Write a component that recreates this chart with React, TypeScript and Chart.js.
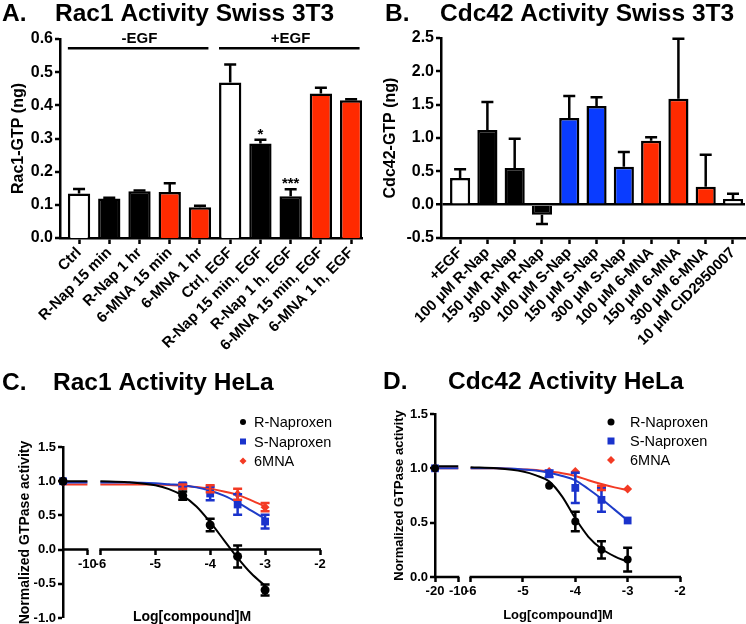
import React, { useEffect, useRef } from 'react';
import { Chart, registerables } from 'chart.js';

Chart.register(...registerables);

const FONT = "'Liberation Sans', Arial, Helvetica, sans-serif";
Chart.defaults.font.family = FONT;
Chart.defaults.color = '#000';

const BLACK = '#000000';
const WHITE = '#ffffff';
const RED = '#ff2a00';
const BLUE = '#0a3cff';
const CURVE_BLUE = '#1e3cc8';
const CURVE_RED = '#f33a24';

// ---------- Panel A: Rac1 Activity Swiss 3T3 ----------
const aCategories = ['Ctrl', 'R-Nap 15 min', 'R-Nap 1 hr', '6-MNA 15 min', '6-MNA 1 hr', 'Ctrl, EGF', 'R-Nap 15 min, EGF', 'R-Nap 1 h, EGF', '6-MNA 15 min, EGF', '6-MNA 1 h, EGF'];
const aValues = [0.134, 0.119, 0.141, 0.139, 0.093, 0.469, 0.285, 0.126, 0.436, 0.415];
const aErrors = [0.014, 0.002, 0.002, 0.026, 0.004, 0.054, 0.011, 0.021, 0.017, 0.003];
const aColors = [WHITE, BLACK, BLACK, RED, RED, WHITE, BLACK, BLACK, RED, RED];
const aStars = ['', '', '', '', '', '', '*', '***', '', ''];
const aYTicks = [0, 0.1, 0.2, 0.3, 0.4, 0.5, 0.6];
const aGroupLabels = ['-EGF', '+EGF'];
const aGroupFirst = [0, 5];
const aGroupLast = [4, 9];
const aBracketValue = 0.572;

// ---------- Panel B: Cdc42 Activity Swiss 3T3 ----------
const bCategories = ['+EGF', '100 μM R-Nap', '150 μM R-Nap', '300 μM R-Nap', '100 μM S-Nap', '150 μM S-Nap', '300 μM S-Nap', '100 μM 6-MNA', '150 μM 6-MNA', '300 μM 6-MNA', '10 μM CID2950007'];
const bValues = [0.40, 1.12, 0.55, -0.15, 1.30, 1.48, 0.57, 0.96, 1.59, 0.27, 0.085];
const bErrors = [0.13, 0.42, 0.44, 0.14, 0.33, 0.13, 0.22, 0.05, 0.90, 0.48, 0.08];
const bColors = [WHITE, BLACK, BLACK, BLACK, BLUE, BLUE, BLUE, RED, RED, RED, WHITE];
const bYTicks = [-0.5, 0, 0.5, 1.0, 1.5, 2.0, 2.5];

// ---------- Panels C & D: dose response (log[compound] M) ----------
const pointX = [-20, -4.5, -4, -3.5, -3];
const curveLeftX = [-20, -10];
const curveMainX = [-6, -5.5, -5, -4.75, -4.5, -4.25, -4, -3.75, -3.5, -3.25, -3];
const GAP_X = -8;

const cXTicks = [-10, -6, -5, -4, -3, -2];
const cYTicks = [-1.0, -0.5, 0, 0.5, 1.0, 1.5];
const cRValues = [1.0, 0.79, 0.36, -0.10, -0.59];
const cRErrors = [0, 0.06, 0.09, 0.16, 0.08];
const cSValues = [1.0, 0.94, 0.82, 0.66, 0.41];
const cSErrors = [0, 0.03, 0.10, 0.15, 0.10];
const cMValues = [1.0, 0.92, 0.89, 0.81, 0.62];
const cMErrors = [0, 0.03, 0.05, 0.08, 0.06];
const cRCurveLeft = [1.0, 1.0];
const cRCurve = [1.0, 0.985, 0.94, 0.885, 0.79, 0.63, 0.40, 0.14, -0.12, -0.35, -0.53];
const cSCurveLeft = [0.98, 0.98];
const cSCurve = [0.98, 0.98, 0.97, 0.955, 0.94, 0.91, 0.86, 0.79, 0.69, 0.57, 0.45];
const cMCurveLeft = [0.95, 0.95];
const cMCurve = [0.95, 0.95, 0.95, 0.945, 0.935, 0.915, 0.89, 0.85, 0.80, 0.72, 0.63];

const dXTicks = [-20, -10, -6, -5, -4, -3, -2];
const dYTicks = [0, 0.5, 1.0, 1.5];
const dRValues = [1.0, 0.84, 0.51, 0.25, 0.16];
const dRErrors = [0, 0, 0.09, 0.08, 0.11];
const dSValues = [1.0, 0.95, 0.82, 0.71, 0.52];
const dSErrors = [0, 0.03, 0.14, 0.11, 0];
const dMValues = [1.0, 0.97, 0.97, 0.82, 0.81];
const dMErrors = [0, 0, 0, 0.02, 0];
const dRCurveLeft = [1.02, 1.02];
const dRCurve = [1.01, 1.0, 0.97, 0.935, 0.88, 0.74, 0.54, 0.37, 0.26, 0.19, 0.14];
const dSCurveLeft = [1.0, 1.0];
const dSCurve = [1.0, 1.0, 0.99, 0.98, 0.96, 0.93, 0.89, 0.81, 0.72, 0.62, 0.52];
const dMCurveLeft = [1.0, 1.0];
const dMCurve = [1.0, 1.0, 0.99, 0.985, 0.97, 0.955, 0.93, 0.89, 0.855, 0.825, 0.80];

const seriesNames = ['R-Naproxen', 'S-Naproxen', '6MNA'];

// broken-axis transform: [-20,-10] is squeezed into a short stub, then [-6,-2] linear
const BREAK_LO = -20;
const BREAK_HI = -10;
const RESUME = -6;
const U_MIN = -6.68;
const U_BREAK = -6.235;
function toAxis(x: number) {
  if (x >= RESUME) return x;
  if (x <= BREAK_HI) return U_BREAK + ((x - BREAK_HI) * (U_BREAK - U_MIN)) / (BREAK_HI - BREAK_LO);
  return U_BREAK + ((x - BREAK_HI) * (RESUME - U_BREAK)) / (RESUME - BREAK_HI);
}

const bold = (size: number) => ({ family: FONT, size, weight: 'bold' as const });
const f1 = (v: number) => v.toFixed(1);
const TITLE_SIZE = 24.5;

// ---------- plugins ----------
const errorBarPlugin = {
  id: 'errorBars',
  afterDatasetsDraw(chart: any) {
    const { ctx } = chart;
    const yScale = chart.scales.y;
    chart.data.datasets.forEach((ds: any, di: number) => {
      if (!ds.errors) return;
      const meta = chart.getDatasetMeta(di);
      ctx.save();
      ctx.strokeStyle = ds.errorColor || '#000';
      ctx.lineWidth = ds.errorWidth || 2.5;
      meta.data.forEach((el: any, i: number) => {
        const e = ds.errors[i];
        if (!e) return;
        const raw = ds.data[i];
        const v = typeof raw === 'number' ? raw : raw.y;
        const cap = (ds.capWidth || 12) / 2;
        const x = el.x;
        const ends = ds.oneSided ? [v + (v < 0 ? -e : e)] : [v - e, v + e];
        const yFrom = yScale.getPixelForValue(ds.oneSided ? v : v - e);
        const yTo = yScale.getPixelForValue(ends[ends.length - 1]);
        ctx.beginPath();
        ctx.moveTo(x, yFrom);
        ctx.lineTo(x, yTo);
        ends.forEach((val: number) => {
          const py = yScale.getPixelForValue(val);
          ctx.moveTo(x - cap, py);
          ctx.lineTo(x + cap, py);
        });
        ctx.stroke();
      });
      ctx.restore();
    });
  },
};

type TextItem = { text: string; x: number; y: number; size: number; weight?: string; align?: CanvasTextAlign };
function makeTextPlugin(items: TextItem[]) {
  return {
    id: 'panelTexts',
    afterDraw(chart: any) {
      const ctx = chart.ctx;
      items.forEach((it) => {
        ctx.save();
        ctx.font = `${it.weight || 'bold'} ${it.size}px ${FONT}`;
        ctx.fillStyle = '#000';
        ctx.textAlign = it.align || 'left';
        ctx.textBaseline = 'alphabetic';
        ctx.fillText(it.text, it.x, it.y);
        ctx.restore();
      });
    },
  };
}

const groupPlugin = {
  id: 'groupBrackets',
  afterDatasetsDraw(chart: any) {
    const { ctx } = chart;
    const { x, y } = chart.scales;
    ctx.save();
    ctx.strokeStyle = '#000';
    ctx.fillStyle = '#000';
    ctx.lineWidth = 2.5;
    ctx.font = `bold 15px ${FONT}`;
    ctx.textAlign = 'center';
    ctx.textBaseline = 'alphabetic';
    aGroupLabels.forEach((lab, g) => {
      const yy = y.getPixelForValue(aBracketValue);
      ctx.beginPath();
      ctx.moveTo(x.getPixelForValue(aGroupFirst[g] - 0.37), yy);
      ctx.lineTo(x.getPixelForValue(aGroupLast[g] + 0.28), yy);
      ctx.stroke();
      ctx.fillText(lab, x.getPixelForValue((aGroupFirst[g] + aGroupLast[g]) / 2), yy - 5);
    });
    aStars.forEach((s, i) => {
      if (!s) return;
      ctx.fillText(s, x.getPixelForValue(i), y.getPixelForValue(aValues[i] + aErrors[i]) - 1);
    });
    ctx.restore();
  },
};

function makeBrokenAxisPlugin(segments: number[][]) {
  return {
    id: 'brokenAxis',
    beforeDatasetsDraw(chart: any) {
      const { ctx } = chart;
      const { x, y } = chart.scales;
      const yy = y.getPixelForValue(0);
      ctx.save();
      ctx.strokeStyle = '#000';
      ctx.lineWidth = 2.5;
      ctx.beginPath();
      segments.forEach(([a, b]) => {
        ctx.moveTo(x.getPixelForValue(toAxis(a)) - 1, yy);
        ctx.lineTo(x.getPixelForValue(toAxis(b)) + 1, yy);
      });
      ctx.stroke();
      ctx.restore();
    },
  };
}

function drawMarker(ctx: CanvasRenderingContext2D, style: string, x: number, y: number, r: number, color: string) {
  ctx.save();
  ctx.fillStyle = color;
  ctx.beginPath();
  if (style === 'circle') ctx.arc(x, y, r, 0, Math.PI * 2);
  else if (style === 'rect') ctx.rect(x - r, y - r, 2 * r, 2 * r);
  else {
    ctx.moveTo(x, y - r);
    ctx.lineTo(x + r, y);
    ctx.lineTo(x, y + r);
    ctx.lineTo(x - r, y);
    ctx.closePath();
  }
  ctx.fill();
  ctx.restore();
}

function makeLegendPlugin(markerX: number, textX: number, rowY: number, rowGap: number, size: number) {
  return {
    id: 'pointLegend',
    afterDraw(chart: any) {
      const ctx = chart.ctx;
      let row = 0;
      chart.data.datasets.forEach((ds: any) => {
        if (!ds.legendText) return;
        const yy = rowY + row * rowGap;
        row += 1;
        drawMarker(ctx, ds.pointStyle, markerX, yy, ds.legendRadius, ds.pointBackgroundColor);
        ctx.save();
        ctx.font = `${size}px ${FONT}`;
        ctx.fillStyle = '#000';
        ctx.textAlign = 'left';
        ctx.textBaseline = 'middle';
        ctx.fillText(ds.legendText, textX, yy + 1);
        ctx.restore();
      });
    },
  };
}

// ---------- axis builders ----------
function yAxis(min: number, max: number, ticks: number[], width: number, title: string, titleSize: number, titlePad: number, tickSize: number, zeroLine = false) {
  return {
    type: 'linear',
    position: 'left',
    min,
    max,
    afterBuildTicks: (s: any) => {
      s.ticks = ticks.map((v) => ({ value: v }));
    },
    afterFit: (s: any) => {
      s.width = width;
      s.paddingTop = 0;
      s.paddingBottom = 0;
    },
    ticks: { font: bold(tickSize), color: '#000', padding: 2, callback: (_v: any, i: number) => f1(ticks[i]) },
    grid: {
      display: true,
      drawOnChartArea: zeroLine,
      drawTicks: true,
      tickLength: 5,
      tickWidth: 2.5,
      tickColor: '#000',
      color: (c: any) => (zeroLine && c.tick && c.tick.value === 0 ? '#000' : 'rgba(0,0,0,0)'),
      lineWidth: (c: any) => (zeroLine && c.tick && c.tick.value === 0 ? 2.5 : 0),
    },
    border: { display: true, color: '#000', width: 2.5 },
    title: { display: true, text: title, font: bold(titleSize), color: '#000', padding: { top: titlePad, bottom: 0 } },
  };
}

function categoryXAxis(cats: string[], min: number, max: number, height: number, tickSize: number) {
  return {
    type: 'linear',
    position: 'bottom',
    min,
    max,
    offset: false,
    afterBuildTicks: (s: any) => {
      s.ticks = cats.map((_c, i) => ({ value: i }));
    },
    afterFit: (s: any) => {
      s.height = height;
      s.paddingLeft = 0;
      s.paddingRight = 0;
    },
    ticks: { autoSkip: false, minRotation: 45, maxRotation: 45, font: bold(tickSize), color: '#000', padding: 0, callback: (_v: any, i: number) => cats[i] },
    grid: { display: true, offset: false, drawOnChartArea: false, drawTicks: true, tickLength: 6, tickWidth: 2.5, tickColor: '#000' },
    border: { display: true, color: '#000', width: 2.5 },
  };
}

function doseXAxis(ticks: number[], tickSize: number) {
  return {
    type: 'linear',
    position: { y: 0 },
    min: toAxis(BREAK_LO),
    max: -2,
    afterBuildTicks: (s: any) => {
      s.ticks = ticks.map((v) => ({ value: toAxis(v) }));
    },
    afterFit: (s: any) => {
      s.paddingLeft = 0;
      s.paddingRight = 0;
    },
    ticks: { autoSkip: false, maxRotation: 0, minRotation: 0, font: bold(tickSize), color: '#000', padding: 2, callback: (_v: any, i: number) => String(ticks[i]) },
    grid: { display: true, drawOnChartArea: false, drawTicks: true, tickLength: 5, tickWidth: 2.5, tickColor: '#000' },
    border: { display: false },
  };
}

// ---------- chart configs ----------
function barConfig(cats: string[], values: number[], errors: number[], colors: string[], opts: any) {
  return {
    type: 'bar',
    data: {
      datasets: [
        {
          data: values.map((v, i) => ({ x: i, y: v })),
          backgroundColor: colors,
          borderColor: BLACK,
          borderWidth: 2.5,
          barPercentage: 0.9,
          categoryPercentage: 0.82,
          errors,
          oneSided: true,
          capWidth: 12,
          errorWidth: 2.5,
        },
      ],
    },
    options: {
      responsive: false,
      animation: false,
      devicePixelRatio: 1,
      layout: { padding: opts.padding },
      plugins: { legend: { display: false }, tooltip: { enabled: false }, title: { display: false } },
      scales: {
        x: categoryXAxis(cats, opts.xMin, opts.xMax, opts.xHeight, opts.xTickSize),
        y: yAxis(opts.yMin, opts.yMax, opts.yTicks, opts.yWidth, opts.yTitle, 16, opts.yTitlePad, 16, opts.zeroLine),
      },
    },
    plugins: opts.plugins,
  };
}

function curveData(left: number[], main: number[]) {
  return [
    ...curveLeftX.map((x, i) => ({ x: toAxis(x), y: left[i] })),
    { x: toAxis(GAP_X), y: null },
    ...curveMainX.map((x, i) => ({ x: toAxis(x), y: main[i] })),
  ];
}

function doseConfig(series: any[], opts: any) {
  const pointSets = series.map((s) => ({
    legendText: s.name,
    legendRadius: s.legendRadius,
    data: pointX.map((x, i) => ({ x: toAxis(x), y: s.values[i] })),
    showLine: false,
    pointStyle: s.style,
    pointRadius: s.radius,
    pointBackgroundColor: s.color,
    pointBorderColor: s.color,
    pointBorderWidth: 0,
    errors: s.errors,
    errorColor: s.color,
    capWidth: 9,
    errorWidth: 2.5,
    clip: false,
  }));
  const curveSets = series.map((s) => ({
    data: curveData(s.curveLeft, s.curve),
    showLine: true,
    pointRadius: 0,
    borderColor: s.lineColor,
    borderWidth: 2,
    cubicInterpolationMode: 'monotone',
    spanGaps: false,
    fill: false,
    clip: false,
  }));
  return {
    type: 'line',
    data: { datasets: [...pointSets, ...curveSets] },
    options: {
      responsive: false,
      animation: false,
      devicePixelRatio: 1,
      layout: { padding: opts.padding },
      plugins: { legend: { display: false }, tooltip: { enabled: false }, title: { display: false } },
      scales: {
        x: doseXAxis(opts.xTicks, 13),
        y: yAxis(opts.yMin, opts.yMax, opts.yTicks, opts.yWidth, 'Normalized GTPase activity', opts.yTitleSize, opts.yTitlePad, 13),
      },
    },
    plugins: opts.plugins,
  };
}

function buildA() {
  return barConfig(aCategories, aValues, aErrors, aColors, {
    padding: { top: 39, left: 0, right: 11, bottom: 0 },
    xMin: -0.63,
    xMax: 9.36,
    xHeight: 122,
    xTickSize: 15,
    yMin: 0,
    yMax: 0.6,
    yTicks: aYTicks,
    yWidth: 60,
    yTitle: 'Rac1-GTP (ng)',
    yTitlePad: 9,
    zeroLine: false,
    plugins: [
      errorBarPlugin,
      groupPlugin,
      makeTextPlugin([
        { text: 'A.', x: 2, y: 21, size: TITLE_SIZE },
        { text: 'Rac1 Activity Swiss 3T3', x: 55, y: 21, size: TITLE_SIZE },
      ]),
    ],
  });
}

function buildB() {
  return barConfig(bCategories, bValues, bErrors, bColors, {
    padding: { top: 38, left: 0, right: 1, bottom: 0 },
    xMin: -0.7,
    xMax: 10.44,
    xHeight: 122,
    xTickSize: 15,
    yMin: -0.5,
    yMax: 2.5,
    yTicks: bYTicks,
    yWidth: 68,
    yTitle: 'Cdc42-GTP (ng)',
    yTitlePad: 8,
    zeroLine: true,
    plugins: [
      errorBarPlugin,
      makeTextPlugin([
        { text: 'B.', x: 12, y: 21, size: TITLE_SIZE },
        { text: 'Cdc42 Activity Swiss 3T3', x: 67, y: 21, size: TITLE_SIZE },
      ]),
    ],
  });
}

function buildC() {
  const series = [
    { name: seriesNames[0], values: cRValues, errors: cRErrors, curveLeft: cRCurveLeft, curve: cRCurve, color: BLACK, lineColor: BLACK, style: 'circle', radius: 4.5, legendRadius: 3 },
    { name: seriesNames[1], values: cSValues, errors: cSErrors, curveLeft: cSCurveLeft, curve: cSCurve, color: '#1a33cc', lineColor: CURVE_BLUE, style: 'rect', radius: 5.5, legendRadius: 3 },
    { name: seriesNames[2], values: cMValues, errors: cMErrors, curveLeft: cMCurveLeft, curve: cMCurve, color: CURVE_RED, lineColor: CURVE_RED, style: 'rectRot', radius: 4.5, legendRadius: 3.5 },
  ];
  return doseConfig(series, {
    padding: { top: 137, left: 0, right: 53, bottom: 6 },
    xTicks: cXTicks,
    yMin: -1.0,
    yMax: 1.5,
    yTicks: cYTicks,
    yWidth: 63,
    yTitleSize: 14,
    yTitlePad: 17,
    plugins: [
      errorBarPlugin,
      makeBrokenAxisPlugin([[BREAK_LO, BREAK_HI], [RESUME, -2]]),
      makeLegendPlugin(243, 254, 112, 19.5, 14.5),
      makeTextPlugin([
        { text: 'C.', x: 2, y: 80, size: TITLE_SIZE },
        { text: 'Rac1 Activity HeLa', x: 53, y: 80, size: TITLE_SIZE },
        { text: 'Log[compound]M', x: 192, y: 311, size: 14, align: 'center' },
      ]),
    ],
  });
}

function buildD() {
  const series = [
    { name: seriesNames[0], values: dRValues, errors: dRErrors, curveLeft: dRCurveLeft, curve: dRCurve, color: BLACK, lineColor: BLACK, style: 'circle', radius: 4, legendRadius: 3.5 },
    { name: seriesNames[1], values: dSValues, errors: dSErrors, curveLeft: dSCurveLeft, curve: dSCurve, color: '#1a33cc', lineColor: CURVE_BLUE, style: 'rect', radius: 5.5, legendRadius: 3.5 },
    { name: seriesNames[2], values: dMValues, errors: dMErrors, curveLeft: dMCurveLeft, curve: dMCurve, color: CURVE_RED, lineColor: CURVE_RED, style: 'rectRot', radius: 4.5, legendRadius: 4 },
  ];
  return doseConfig(series, {
    padding: { top: 104, left: 0, right: 66, bottom: 47 },
    xTicks: dXTicks,
    yMin: 0,
    yMax: 1.5,
    yTicks: dYTicks,
    yWidth: 62,
    yTitleSize: 13,
    yTitlePad: 19,
    plugins: [
      errorBarPlugin,
      makeBrokenAxisPlugin([[BREAK_LO, BREAK_HI], [RESUME, -2]]),
      makeLegendPlugin(238, 257, 112, 19, 14.5),
      makeTextPlugin([
        { text: 'D.', x: 10, y: 79, size: TITLE_SIZE },
        { text: 'Cdc42 Activity HeLa', x: 75, y: 79, size: TITLE_SIZE },
        { text: 'Log[compound]M', x: 185, y: 309, size: 13, align: 'center' },
      ]),
    ],
  });
}

function Panel({ left, top, width, height, build }: { left: number; top: number; width: number; height: number; build: () => any }) {
  const ref = useRef<HTMLCanvasElement>(null);
  useEffect(() => {
    const chart = new Chart(ref.current as HTMLCanvasElement, build());
    return () => chart.destroy();
  }, [build]);
  return (
    <canvas
      ref={ref}
      width={width}
      height={height}
      style={{ position: 'absolute', left, top, width, height, display: 'block' }}
    />
  );
}

export default function App() {
  return (
    <div style={{ position: 'absolute', left: 0, top: 0, width: 746, height: 624, background: '#fff', overflow: 'hidden' }}>
      <Panel left={0} top={0} width={373} height={360} build={buildA} />
      <Panel left={373} top={0} width={373} height={360} build={buildB} />
      <Panel left={0} top={310} width={373} height={314} build={buildC} />
      <Panel left={373} top={310} width={373} height={314} build={buildD} />
    </div>
  );
}
